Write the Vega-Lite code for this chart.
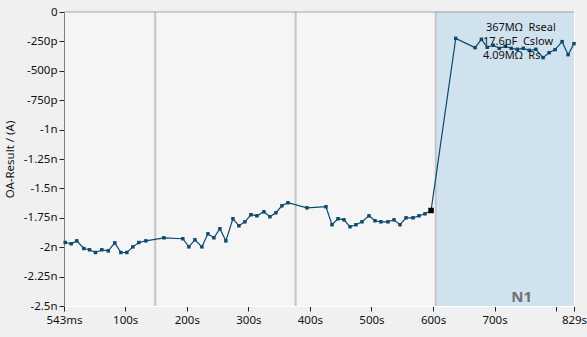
{
  "$schema": "https://vega.github.io/schema/vega-lite/v6.json",
  "autosize": "none",
  "width": 510,
  "height": 294,
  "padding": {"left": 64, "top": 12, "right": 13, "bottom": 31},
  "background": "#f0f0f0",
  "view": {"fill": "#f5f5f5", "stroke": "#ffffff", "strokeWidth": 1},
  "config": {
    "font": "Noto Sans",
    "axis": {"labelFont": "Noto Sans", "titleFont": "Noto Sans", "labelColor": "#111111", "titleColor": "#111111", "grid": false}
  },
  "datasets": {
    "series": [
      {"t": 2.5, "v": -1.960}, {"t": 12.2, "v": -1.971}, {"t": 21.3, "v": -1.946}, {"t": 32.7, "v": -2.011},
      {"t": 42.0, "v": -2.022}, {"t": 51.7, "v": -2.045}, {"t": 62.0, "v": -2.022}, {"t": 72.4, "v": -2.031},
      {"t": 83.1, "v": -1.963}, {"t": 92.9, "v": -2.045}, {"t": 102.6, "v": -2.045}, {"t": 112.4, "v": -1.997},
      {"t": 122.1, "v": -1.960}, {"t": 133.5, "v": -1.946}, {"t": 162.8, "v": -1.920}, {"t": 193.6, "v": -1.928},
      {"t": 203.4, "v": -1.997}, {"t": 213.2, "v": -1.937}, {"t": 224.5, "v": -1.997}, {"t": 234.3, "v": -1.886},
      {"t": 244.0, "v": -1.920}, {"t": 253.8, "v": -1.843}, {"t": 263.5, "v": -1.946}, {"t": 274.9, "v": -1.758},
      {"t": 284.7, "v": -1.818}, {"t": 294.4, "v": -1.784}, {"t": 304.2, "v": -1.724}, {"t": 313.9, "v": -1.733},
      {"t": 325.3, "v": -1.699}, {"t": 335.0, "v": -1.741}, {"t": 344.8, "v": -1.707}, {"t": 354.5, "v": -1.648},
      {"t": 364.3, "v": -1.622}, {"t": 395.2, "v": -1.665}, {"t": 426.1, "v": -1.656}, {"t": 435.8, "v": -1.809},
      {"t": 445.6, "v": -1.758}, {"t": 455.3, "v": -1.767}, {"t": 465.1, "v": -1.826}, {"t": 474.8, "v": -1.809},
      {"t": 484.6, "v": -1.784}, {"t": 496.0, "v": -1.733}, {"t": 505.7, "v": -1.775}, {"t": 515.4, "v": -1.784},
      {"t": 526.8, "v": -1.784}, {"t": 536.6, "v": -1.767}, {"t": 546.3, "v": -1.809}, {"t": 556.1, "v": -1.750},
      {"t": 567.5, "v": -1.750}, {"t": 577.2, "v": -1.733}, {"t": 587.0, "v": -1.716}, {"t": 596.8, "v": -1.688},
      {"t": 636.9, "v": -0.224}, {"t": 668.3, "v": -0.303}, {"t": 678.6, "v": -0.232}, {"t": 688.0, "v": -0.300},
      {"t": 697.9, "v": -0.283}, {"t": 707.6, "v": -0.309}, {"t": 717.4, "v": -0.292}, {"t": 727.1, "v": -0.309},
      {"t": 736.9, "v": -0.317}, {"t": 746.6, "v": -0.309}, {"t": 756.4, "v": -0.326}, {"t": 767.0, "v": -0.317},
      {"t": 778.8, "v": -0.388}, {"t": 788.5, "v": -0.346}, {"t": 798.3, "v": -0.320}, {"t": 809.7, "v": -0.252},
      {"t": 819.4, "v": -0.363}, {"t": 829.0, "v": -0.269}
    ],
    "sweeps": [{"t": 148.7, "v": -2.5, "v2": 0}, {"t": 376.8, "v": -2.5, "v2": 0}, {"t": 604.4, "v": -2.5, "v2": 0}],
    "region": [{"t": 605.6, "t2": 829, "v": -2.5, "v2": 0}],
    "regionLabel": [{"t": 744, "v": -2.42, "label": "N1"}],
    "top": [{"t": 0.543, "t2": 829, "v": 0}],
    "notes": [
      {"t": 686, "v": -0.139, "text": "367MΩ\u00a0\u00a0Rseal"},
      {"t": 681, "v": -0.258, "text": "17.6pF\u00a0\u00a0Cslow"},
      {"t": 681, "v": -0.377, "text": "4.09MΩ\u00a0\u00a0Rs"}
    ]
  },
  "encoding": {
    "x": {
      "field": "t", "type": "quantitative",
      "scale": {"domain": [0.543, 829], "nice": false, "zero": false},
      "axis": {
        "title": null,
        "values": [0.543, 100, 200, 300, 400, 500, 600, 700, 800, 829],
        "labelExpr": "datum.value < 1 ? '543ms' : (datum.value == 800 ? '' : datum.value + 's')",
        "labelFontSize": 11.5, "labelPadding": 3, "labelFlush": false, "labelOverlap": false, "labelBound": false,
        "tickColor": "#222222", "tickSize": 5, "domainColor": "#ffffff"
      }
    },
    "y": {
      "field": "v", "type": "quantitative",
      "scale": {"domain": [-2.5, 0], "nice": false, "zero": false},
      "axis": {
        "title": "OA-Result / (A)",
        "values": [0, -0.25, -0.5, -0.75, -1, -1.25, -1.5, -1.75, -2, -2.25, -2.5],
        "labelExpr": "datum.value == 0 ? '0' : (datum.value > -1 ? round(datum.value * 1000) + 'p' : datum.value + 'n')",
        "labelFontSize": 11.5, "labelPadding": 2, "labelOverlap": false, "labelBound": false, "labelFlush": false,
        "titleFontSize": 11.5, "titleFontWeight": "normal", "titlePadding": 8,
        "tickColor": "#222222", "tickSize": 5, "domainColor": "#808080"
      }
    }
  },
  "layer": [
    {
      "data": {"name": "region"},
      "mark": {"type": "rect", "color": "#d1e2ef"},
      "encoding": {"x2": {"field": "t2"}, "y2": {"field": "v2"}}
    },
    {
      "data": {"name": "sweeps"},
      "mark": {"type": "rule", "color": "#c4c4c4", "strokeWidth": 2},
      "encoding": {"y2": {"field": "v2"}}
    },
    {
      "data": {"name": "top"},
      "mark": {"type": "rule", "color": "#a0a0a0", "strokeWidth": 1},
      "encoding": {"x2": {"field": "t2"}}
    },
    {
      "data": {"name": "series"},
      "mark": {"type": "line", "color": "#0b4a6e", "strokeWidth": 1.2}
    },
    {
      "data": {"name": "series"},
      "mark": {"type": "point", "shape": "square", "filled": true, "color": "#0b4a6e", "size": 12, "opacity": 1}
    },
    {
      "data": {"name": "series"},
      "transform": [{"filter": "datum.t > 590 && datum.t < 600"}],
      "mark": {"type": "point", "shape": "square", "filled": true, "color": "#000000", "size": 30, "opacity": 1}
    },
    {
      "data": {"name": "notes"},
      "mark": {"type": "text", "align": "left", "baseline": "middle", "fontSize": 11, "color": "#111111", "font": "Noto Sans"},
      "encoding": {"text": {"field": "text"}}
    },
    {
      "data": {"name": "regionLabel"},
      "mark": {"type": "text", "align": "center", "baseline": "middle", "fontSize": 15, "fontWeight": "bold", "color": "#707070", "font": "Noto Sans"},
      "encoding": {"text": {"field": "label"}}
    }
  ]
}
